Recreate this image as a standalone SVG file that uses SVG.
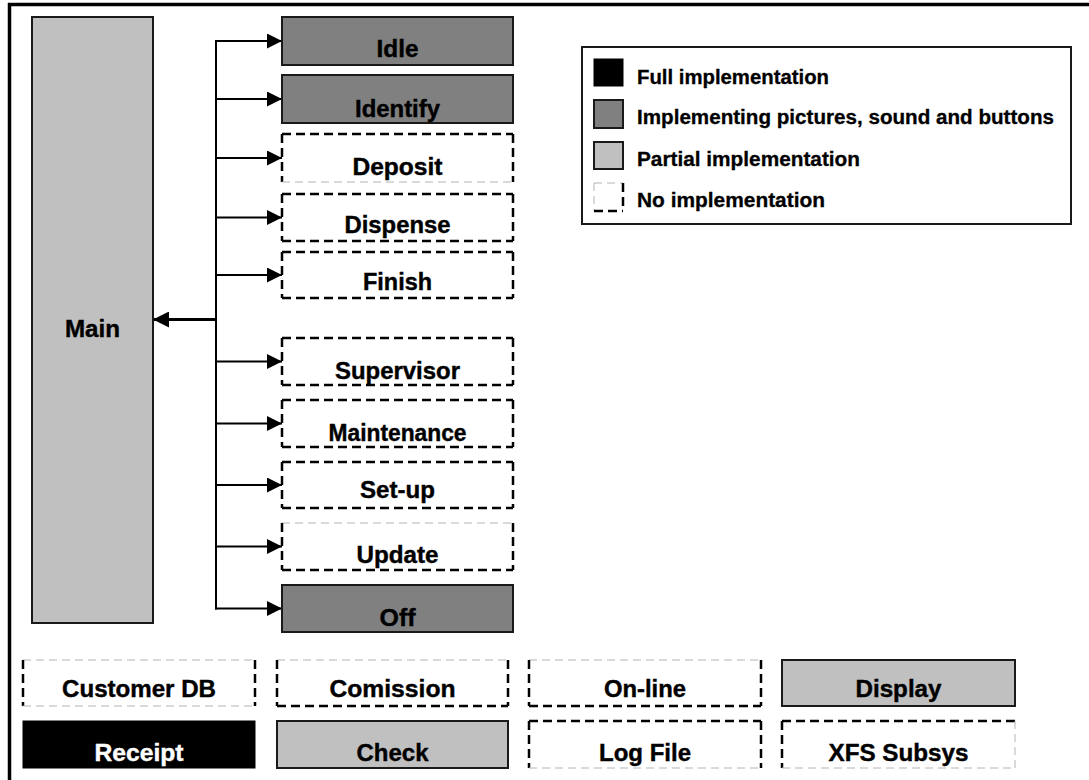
<svg xmlns="http://www.w3.org/2000/svg" width="1089" height="780" viewBox="0 0 1089 780">
<style>
.t{font-family:"Liberation Sans",Arial,Helvetica,sans-serif;font-weight:bold;font-size:23px;text-anchor:middle;fill:#000;stroke:#000;stroke-width:0.4}
.lt{font-family:"Liberation Sans",Arial,Helvetica,sans-serif;font-weight:bold;font-size:19.5px;text-anchor:start;fill:#000;stroke:#000;stroke-width:0.3}
.w{fill:#fff;stroke:#fff}
.dark{fill:#808080;stroke:#1a1a1a;stroke-width:2}
.light{fill:#c0c0c0;stroke:#1a1a1a;stroke-width:2}
.blk{fill:#000;stroke:#000;stroke-width:1}
.bg{fill:#fff;stroke:none}
.db{stroke:#000;stroke-width:2.5;stroke-dasharray:9 5;fill:none}
.dg{stroke:#b4b4b4;stroke-width:1;stroke-dasharray:8 5;fill:none}
.c{stroke:#000;stroke-width:2;fill:none}
.cm{stroke:#000;stroke-width:3;fill:none}
</style>
<defs>
<marker id="arr" markerUnits="userSpaceOnUse" markerWidth="15" markerHeight="15" refX="15" refY="7.5" orient="auto">
<path d="M0,0 L15,7.5 L0,15 z" fill="#000"/>
</marker>
<marker id="arrM" markerUnits="userSpaceOnUse" markerWidth="16" markerHeight="16" refX="16" refY="8" orient="auto">
<path d="M0,0 L16,8 L0,16 z" fill="#000"/>
</marker>
</defs>
<rect x="0" y="0" width="1089" height="780" fill="#fff"/>
<g id="frame">
<line x1="8" y1="4.5" x2="1089" y2="4.5" stroke="#000" stroke-width="3.5"/>
<line x1="9.5" y1="3" x2="9.5" y2="780" stroke="#000" stroke-width="3.5"/>
</g>
<g id="connectors">
<line class="c" x1="216" y1="40" x2="216" y2="609.5"/>
<line class="cm" x1="216" y1="319.5" x2="153" y2="319.5" marker-end="url(#arrM)"/>
<line class="c" x1="215" y1="41" x2="282" y2="41" marker-end="url(#arr)"/>
<line class="c" x1="215" y1="99" x2="282" y2="99" marker-end="url(#arr)"/>
<line class="c" x1="215" y1="158" x2="282" y2="158" marker-end="url(#arr)"/>
<line class="c" x1="215" y1="217.5" x2="282" y2="217.5" marker-end="url(#arr)"/>
<line class="c" x1="215" y1="275" x2="282" y2="275" marker-end="url(#arr)"/>
<line class="c" x1="215" y1="361.5" x2="282" y2="361.5" marker-end="url(#arr)"/>
<line class="c" x1="215" y1="423.5" x2="282" y2="423.5" marker-end="url(#arr)"/>
<line class="c" x1="215" y1="485" x2="282" y2="485" marker-end="url(#arr)"/>
<line class="c" x1="215" y1="546.5" x2="282" y2="546.5" marker-end="url(#arr)"/>
<line class="c" x1="215" y1="608.5" x2="282" y2="608.5" marker-end="url(#arr)"/>
</g>
<g id="main">
<rect class="light" x="32" y="17" width="121" height="606"/>
<text class="t" x="92.5" y="337" textLength="55" lengthAdjust="spacingAndGlyphs">Main</text>
</g>
<g id="idle">
<rect class="dark" x="282" y="17" width="231" height="48"/>
<text class="t" x="397.5" y="57" textLength="42" lengthAdjust="spacingAndGlyphs">Idle</text>
</g>
<g id="identify">
<rect class="dark" x="282" y="75" width="231" height="48"/>
<text class="t" x="397.5" y="117" textLength="85" lengthAdjust="spacingAndGlyphs">Identify</text>
</g>
<g id="deposit">
<rect class="bg" x="282" y="134" width="231" height="48"/>
<line class="db" x1="282" y1="134" x2="513" y2="134"/>
<line class="db" x1="282" y1="134" x2="282" y2="182"/>
<line class="db" x1="513" y1="134" x2="513" y2="182"/>
<line class="dg" x1="282" y1="182" x2="513" y2="182"/>
<text class="t" x="397.5" y="175" textLength="90" lengthAdjust="spacingAndGlyphs">Deposit</text>
</g>
<g id="dispense">
<rect class="bg" x="282" y="194" width="231" height="47"/>
<line class="db" x1="282" y1="194" x2="513" y2="194"/>
<line class="db" x1="282" y1="194" x2="282" y2="241"/>
<line class="db" x1="513" y1="194" x2="513" y2="241"/>
<line class="db" x1="282" y1="241" x2="513" y2="241"/>
<text class="t" x="397.5" y="233" textLength="106" lengthAdjust="spacingAndGlyphs">Dispense</text>
</g>
<g id="finish">
<rect class="bg" x="282" y="252" width="231" height="46"/>
<line class="db" x1="282" y1="252" x2="513" y2="252"/>
<line class="db" x1="282" y1="252" x2="282" y2="298"/>
<line class="db" x1="513" y1="252" x2="513" y2="298"/>
<line class="db" x1="282" y1="298" x2="513" y2="298"/>
<text class="t" x="397.5" y="290" textLength="69" lengthAdjust="spacingAndGlyphs">Finish</text>
</g>
<g id="supervisor">
<rect class="bg" x="282" y="338" width="231" height="47"/>
<line class="db" x1="282" y1="338" x2="513" y2="338"/>
<line class="db" x1="282" y1="338" x2="282" y2="385"/>
<line class="db" x1="513" y1="338" x2="513" y2="385"/>
<line class="db" x1="282" y1="385" x2="513" y2="385"/>
<text class="t" x="397.5" y="379" textLength="125" lengthAdjust="spacingAndGlyphs">Supervisor</text>
</g>
<g id="maintenance">
<rect class="bg" x="282" y="400" width="231" height="47"/>
<line class="db" x1="282" y1="400" x2="513" y2="400"/>
<line class="db" x1="282" y1="400" x2="282" y2="447"/>
<line class="db" x1="513" y1="400" x2="513" y2="447"/>
<line class="db" x1="282" y1="447" x2="513" y2="447"/>
<text class="t" x="397.5" y="441" textLength="138" lengthAdjust="spacingAndGlyphs">Maintenance</text>
</g>
<g id="setup">
<rect class="bg" x="282" y="462" width="231" height="46"/>
<line class="db" x1="282" y1="462" x2="513" y2="462"/>
<line class="db" x1="282" y1="462" x2="282" y2="508"/>
<line class="db" x1="513" y1="462" x2="513" y2="508"/>
<line class="db" x1="282" y1="508" x2="513" y2="508"/>
<text class="t" x="397.5" y="498" textLength="75" lengthAdjust="spacingAndGlyphs">Set-up</text>
</g>
<g id="update">
<rect class="bg" x="282" y="523" width="231" height="47"/>
<line class="dg" x1="282" y1="523" x2="513" y2="523"/>
<line class="db" x1="282" y1="523" x2="282" y2="570"/>
<line class="db" x1="513" y1="523" x2="513" y2="570"/>
<line class="db" x1="282" y1="570" x2="513" y2="570"/>
<text class="t" x="397.5" y="563" textLength="82" lengthAdjust="spacingAndGlyphs">Update</text>
</g>
<g id="off">
<rect class="dark" x="282" y="585" width="231" height="47"/>
<text class="t" x="397.5" y="626" textLength="36" lengthAdjust="spacingAndGlyphs">Off</text>
</g>
<g id="legend">
<rect x="582" y="47" width="489" height="177" fill="#fff" stroke="#1a1a1a" stroke-width="2"/>
<rect class="blk" x="594" y="59" width="29" height="27"/>
<text class="lt" x="637" y="84" textLength="192" lengthAdjust="spacingAndGlyphs">Full implementation</text>
<rect class="dark" x="594" y="100" width="29" height="28"/>
<text class="lt" x="637" y="123.5" textLength="417" lengthAdjust="spacingAndGlyphs">Implementing pictures, sound and buttons</text>
<rect class="light" x="594" y="142" width="29" height="27"/>
<text class="lt" x="637" y="165.5" textLength="223" lengthAdjust="spacingAndGlyphs">Partial implementation</text>
<line class="dg" x1="594" y1="183" x2="623" y2="183"/>
<line class="dg" x1="594" y1="183" x2="594" y2="211"/>
<line class="db" x1="623" y1="183" x2="623" y2="211"/>
<line class="db" x1="594" y1="211" x2="623" y2="211"/>
<text class="lt" x="637" y="207" textLength="188" lengthAdjust="spacingAndGlyphs">No implementation</text>
</g>
<g id="customerdb">
<line class="dg" x1="23" y1="660" x2="255" y2="660"/>
<line class="db" x1="23" y1="660" x2="23" y2="706"/>
<line class="db" x1="255" y1="660" x2="255" y2="706"/>
<line class="dg" x1="23" y1="706" x2="255" y2="706"/>
<text class="t" x="139" y="697" textLength="154" lengthAdjust="spacingAndGlyphs">Customer DB</text>
</g>
<g id="comission">
<line class="dg" x1="277" y1="660" x2="508" y2="660"/>
<line class="db" x1="277" y1="660" x2="277" y2="706"/>
<line class="db" x1="508" y1="660" x2="508" y2="706"/>
<line class="db" x1="277" y1="706" x2="508" y2="706"/>
<text class="t" x="392.5" y="697" textLength="126" lengthAdjust="spacingAndGlyphs">Comission</text>
</g>
<g id="online">
<line class="dg" x1="529" y1="660" x2="761" y2="660"/>
<line class="db" x1="529" y1="660" x2="529" y2="706"/>
<line class="db" x1="761" y1="660" x2="761" y2="706"/>
<line class="db" x1="529" y1="706" x2="761" y2="706"/>
<text class="t" x="645" y="697" textLength="82" lengthAdjust="spacingAndGlyphs">On-line</text>
</g>
<g id="display">
<rect class="light" x="782" y="660" width="233" height="46"/>
<text class="t" x="898.5" y="697" textLength="86" lengthAdjust="spacingAndGlyphs">Display</text>
</g>
<g id="receipt">
<rect class="blk" x="23" y="721" width="232" height="47"/>
<text class="t w" x="139" y="761" textLength="89" lengthAdjust="spacingAndGlyphs">Receipt</text>
</g>
<g id="check">
<rect class="light" x="277" y="721" width="231" height="47"/>
<text class="t" x="392.5" y="761" textLength="72" lengthAdjust="spacingAndGlyphs">Check</text>
</g>
<g id="logfile">
<line class="db" x1="529" y1="721" x2="761" y2="721"/>
<line class="db" x1="529" y1="721" x2="529" y2="768"/>
<line class="db" x1="761" y1="721" x2="761" y2="768"/>
<line class="dg" x1="529" y1="768" x2="761" y2="768"/>
<text class="t" x="645" y="761" textLength="92" lengthAdjust="spacingAndGlyphs">Log File</text>
</g>
<g id="xfs">
<line class="db" x1="782" y1="721" x2="1015" y2="721"/>
<line class="db" x1="782" y1="721" x2="782" y2="768"/>
<line class="dg" x1="1015" y1="721" x2="1015" y2="768"/>
<line class="dg" x1="782" y1="768" x2="1015" y2="768"/>
<text class="t" x="898.5" y="761" textLength="140" lengthAdjust="spacingAndGlyphs">XFS Subsys</text>
</g>
</svg>
